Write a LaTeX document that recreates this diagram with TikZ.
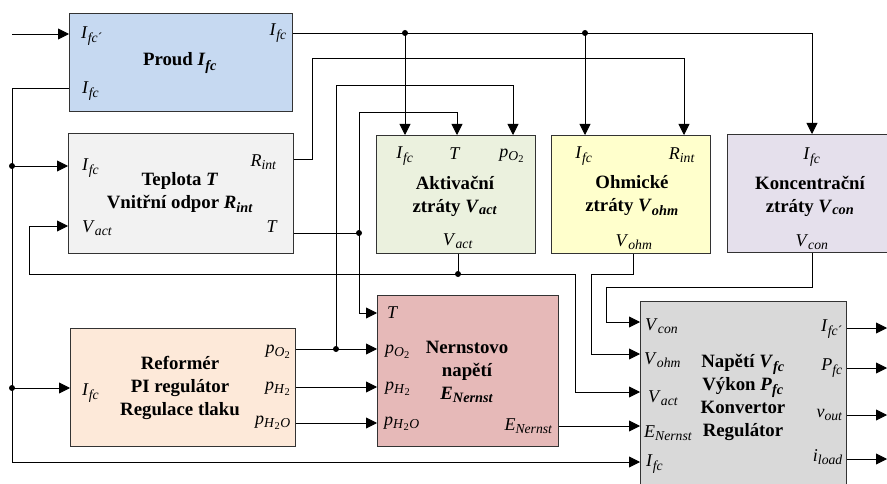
\documentclass[tikz,border=0pt]{standalone}
\usepackage{fontspec}
\setmainfont{Liberation Serif}
\usetikzlibrary{arrows.meta,calc}
\renewcommand\defaultscriptratio{.76}
\renewcommand\defaultscriptscriptratio{.62}
\newcommand\vr[2]{\textit{#1}\textsubscript{\textit{#2}}}
\newcommand\pOO{\textit{p}\textsubscript{\textit{O}\textsubscript{2}}}
\newcommand\pHH{\textit{p}\textsubscript{\textit{H}\textsubscript{2}}}
\newcommand\pHHO{\textit{p}\textsubscript{\textit{H}\textsubscript{2}\textit{O}}}
\newcommand\Ifcp{\textit{I}\textsubscript{\textit{fc}´}}
\definecolor{cProud}{HTML}{C6D9F1}
\definecolor{cTep}{HTML}{F2F2F2}
\definecolor{cAkt}{HTML}{EBF1DE}
\definecolor{cOhm}{HTML}{FFFFCC}
\definecolor{cKon}{HTML}{E5E0EC}
\definecolor{cNer}{HTML}{E6B9B8}
\definecolor{cRef}{HTML}{FDE9D9}
\definecolor{cNap}{HTML}{D9D9D9}
\begin{document}
\begin{tikzpicture}[x=1pt,y=-1pt,
  box/.style={draw=black!80,line width=1.2pt,anchor=north west,inner sep=0},
  lab/.style={inner sep=0,font=\fontsize{18}{20}\selectfont},
  ctr/.style={inner sep=0,align=center,font=\fontsize{18.8}{23}\selectfont\bfseries},
  wire/.style={line width=0.9pt,black},
  arr/.style={-{Triangle[length=11pt,width=11pt]}},
  dot/.style={circle,fill=black,inner sep=0,minimum size=6pt}]
\useasboundingbox (0,0) rectangle (887,484);
\clip (0,0) rectangle (887,484);
% boxes
\node[box,fill=cProud,minimum width=223,minimum height=98] (proud) at (69,13) {};
\node[box,fill=cTep,minimum width=225,minimum height=120] (tep) at (68,133) {};
\node[box,fill=cAkt,minimum width=159,minimum height=118] (akt) at (376,135) {};
\node[box,fill=cOhm,minimum width=159,minimum height=118] (ohm) at (551,135) {};
\node[box,fill=cKon,minimum width=165,minimum height=118] (kon) at (727,134) {};
\node[box,fill=cNer,minimum width=181,minimum height=151] (ner) at (377,295) {};
\node[box,fill=cRef,minimum width=225,minimum height=118] (ref) at (70,328) {};
\node[box,fill=cNap,minimum width=206,minimum height=195] (nap) at (640,301) {};
% labels: Proud
\node[lab,anchor=west] (p-in) at (81,36) {\Ifcp};
\node[lab,anchor=east] (p-out) at (287,33) {\vr{I}{fc}};
\node[ctr] (p-c) at (180,63) {Proud \vr{I}{fc}};
\node[lab,anchor=west] (p-fb) at (82,91) {\vr{I}{fc}};
% Teplota
\node[lab,anchor=west] (t-i) at (82,168) {\vr{I}{fc}};
\node[lab,anchor=east] (t-r) at (277,162) {\vr{R}{int}};
\node[ctr] (t-c) at (180,193) {Teplota \textit{T}\\Vnitřní odpor \vr{R}{int}};
\node[lab,anchor=west] (t-v) at (82,228) {\vr{V}{act}};
\node[lab,anchor=east] (t-t) at (278,227) {\textit{T}};
% Aktivacni
\node[lab] (a-i) at (405,156) {\vr{I}{fc}};
\node[lab] (a-t) at (455,154) {\textit{T}};
\node[lab] (a-p) at (512,156) {\pOO};
\node[ctr] (a-c) at (455,196) {Aktivační\\ztráty \vr{V}{act}};
\node[lab] (a-v) at (458,241) {\vr{V}{act}};
% Ohmicke
\node[lab] (o-i) at (584,156) {\vr{I}{fc}};
\node[lab] (o-r) at (682,155) {\vr{R}{int}};
\node[ctr] (o-c) at (632,196) {Ohmické\\ztráty \vr{V}{ohm}};
\node[lab] (o-v) at (634,242) {\vr{V}{ohm}};
% Koncentracni
\node[lab] (k-i) at (812,157) {\vr{I}{fc}};
\node[ctr] (k-c) at (810,196) {Koncentrační\\ztráty \vr{V}{con}};
\node[lab] (k-v) at (812,242) {\vr{V}{con}};
% Nernst
\node[lab,anchor=west] (n-t) at (387,313) {\textit{T}};
\node[lab,anchor=west] (n-o) at (385,352) {\pOO};
\node[lab,anchor=west] (n-h) at (385,389) {\pHH};
\node[lab,anchor=west] (n-w) at (384,424) {\pHHO};
\node[ctr] (n-c) at (467,372) {Nernstovo\\napětí\\\vr{E}{Nernst}};
\node[lab,anchor=east] (n-e) at (553,426) {\vr{E}{Nernst}};
% Reformer
\node[lab,anchor=west] (r-i) at (82,393) {\vr{I}{fc}};
\node[lab,anchor=east] (r-o) at (291,352) {\pOO};
\node[lab,anchor=east] (r-h) at (291,389) {\pHH};
\node[lab,anchor=east] (r-w) at (291,423) {\pHHO};
\node[ctr] (r-c) at (180,388) {Reformér\\PI regulátor\\Regulace tlaku};
% Napeti
\node[lab,anchor=west] (v-con) at (645,326) {\vr{V}{con}};
\node[lab,anchor=west] (v-ohm) at (644,360) {\vr{V}{ohm}};
\node[lab,anchor=west] (v-act) at (648,398) {\vr{V}{act}};
\node[lab,anchor=west] (v-e) at (644,433) {\vr{E}{Nernst}};
\node[lab,anchor=west] (v-i) at (646,464) {\vr{I}{fc}};
\node[lab,anchor=east] (v-o1) at (843,329) {\Ifcp};
\node[lab,anchor=east] (v-o2) at (843,368) {\vr{P}{fc}};
\node[lab,anchor=east] (v-o3) at (843,415) {\vr{v}{out}};
\node[lab,anchor=east] (v-o4) at (843,457) {\vr{i}{load}};
\node[ctr] (v-c) at (743,397) {Napětí \vr{V}{fc}\\Výkon \vr{P}{fc}\\Konvertor\\Regulátor};
% coordinates
\coordinate (inP) at (12,34);
\coordinate (j1) at (405,33); \coordinate (j2) at (585,33); \coordinate (c1) at (812,33);
\coordinate (f1) at (12,88); \coordinate (f2) at (12,462);
\coordinate (d1) at (12,166); \coordinate (d2) at (12,388);
\coordinate (r1) at (312,159); \coordinate (r2) at (312,58); \coordinate (r3) at (684,58);
\coordinate (t0) at (359,233); \coordinate (t1) at (359,112); \coordinate (t2) at (457,112); \coordinate (t3) at (359,313);
\coordinate (o0) at (336,349); \coordinate (o1) at (336,85); \coordinate (o2) at (513,85);
\coordinate (h2a) at (0,387); \coordinate (h2o) at (0,423);
\coordinate (a0) at (458,274); \coordinate (a1) at (29,274); \coordinate (a2) at (29,226);
\coordinate (a3) at (575,274); \coordinate (a4) at (575,392);
\coordinate (m0) at (633,274); \coordinate (m1) at (591,274); \coordinate (m2) at (591,354);
\coordinate (k0) at (812,287); \coordinate (k1) at (606,287); \coordinate (k2) at (606,322);
\coordinate (en) at (0,426);
\coordinate (e1) at (887,328); \coordinate (e2) at (887,368);
\coordinate (e3) at (887,415); \coordinate (e4) at (887,459);
% connectors
\draw[wire,arr] (inP) -- (inP -| proud.west);
\draw[wire,arr] (proud.east |- c1) -- (c1) -- (c1 |- kon.north);
\draw[wire,arr] (j1) -- (j1 |- akt.north);
\draw[wire,arr] (j2) -- (j2 |- ohm.north);
\draw[wire,arr] (proud.west |- f1) -- (f1) -- (f2) -- (f2 -| nap.west);
\draw[wire,arr] (d1) -- (d1 -| tep.west);
\draw[wire,arr] (d2) -- (d2 -| ref.west);
\draw[wire,arr] (tep.east |- r1) -- (r1) -- (r2) -- (r3) -- (r3 |- ohm.north);
\draw[wire] (tep.east |- t0) -- (t0);
\draw[wire,arr] (t1) -- (t2) -- (t2 |- akt.north);
\draw[wire,arr] (t1) -- (t3) -- (t3 -| ner.west);
\draw[wire,arr] (ref.east |- o0) -- (o0 -| ner.west);
\draw[wire,arr] (o0) -- (o1) -- (o2) -- (o2 |- akt.north);
\draw[wire,arr] (ref.east |- h2a) -- (ner.west |- h2a);
\draw[wire,arr] (ref.east |- h2o) -- (ner.west |- h2o);
\draw[wire] (akt.south -| a0) -- (a0);
\draw[wire,arr] (a0) -- (a1) -- (a2) -- (a2 -| tep.west);
\draw[wire,arr] (a0) -- (a3) -- (a4) -- (a4 -| nap.west);
\draw[wire,arr] (ohm.south -| m0) -- (m0) -- (m1) -- (m2) -- (m2 -| nap.west);
\draw[wire,arr] (kon.south -| k0) -- (k0) -- (k1) -- (k2) -- (k2 -| nap.west);
\draw[wire,arr] (ner.east |- en) -- (nap.west |- en);
\draw[wire,arr] (nap.east |- e1) -- (e1);
\draw[wire,arr] (nap.east |- e2) -- (e2);
\draw[wire,arr] (nap.east |- e3) -- (e3);
\draw[wire,arr] (nap.east |- e4) -- (e4);
% junction dots
\foreach \p in {j1,j2,d1,d2,t0,o0,a0} \node[dot] at (\p) {};
\end{tikzpicture}
\end{document}
